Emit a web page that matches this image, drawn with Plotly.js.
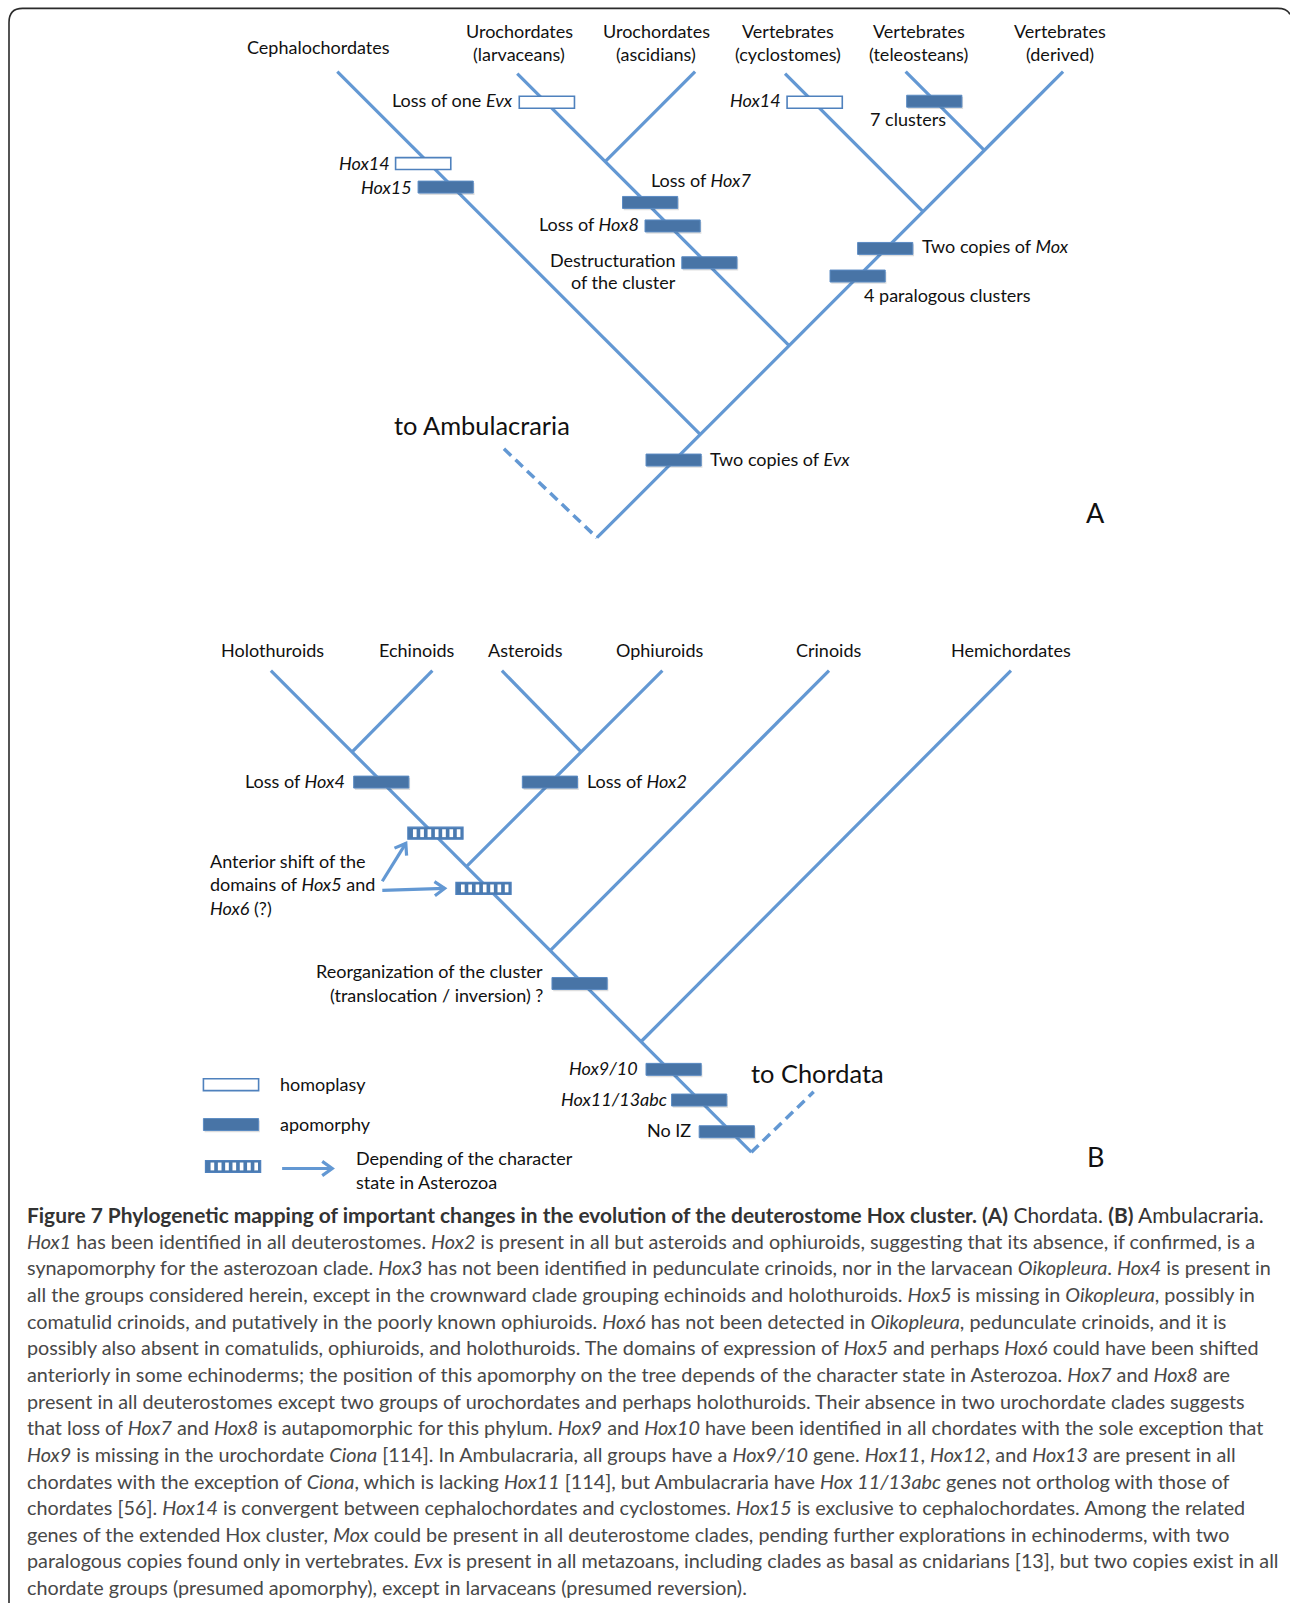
<!DOCTYPE html>
<html>
<head>
<meta charset="utf-8">
<script src="https://cdn.plot.ly/plotly-3.0.1.min.js"></script>
<style>
  html, body { margin: 0; padding: 0; background: #ffffff; }
  #fig { width: 1290px; height: 1603px; }
</style>
</head>
<body>
<div id="fig"></div>
<script>
// ---------------- DATA (coordinates in a 1262 x 1568 drawing space) ----------------
// Panel A (Chordata) branches: [x0, y0, x1, y1]
const branchesA = [
  [584, 526, 1040, 70],   // trunk to Vertebrates (derived)
  [685, 425, 330, 70],    // Cephalochordates
  [772, 338, 506, 72],    // Urochordates (larvaceans)
  [592, 158, 680, 70],    // Urochordates (ascidians)
  [903, 207, 768, 72],    // Vertebrates (cyclostomes)
  [963, 147, 886, 70]     // Vertebrates (teleosteans)
];
const dashedA = [493, 439, 584, 526];   // to Ambulacraria

// Panel B (Ambulacraria) branches
const branchesB = [
  [735, 1127, 265, 656],  // trunk to Holothuroids
  [344, 736, 423, 656],   // Echinoids
  [456, 848, 648, 656],   // Ophiuroids
  [569, 736, 491, 656],   // Asteroids
  [538, 930, 811, 656],   // Crinoids
  [627, 1019, 989, 656]   // Hemichordates
];
const dashedB = [735, 1127, 796, 1068];  // to Chordata

// Character-state bars: centre x, centre y, kind
const barX    = [535, 414, 436, 636, 658, 694, 797, 914, 866, 839, 659,
                 373, 538, 426, 473, 567, 659, 684, 711,
                 226, 226, 228];
const barY    = [100, 160, 183, 198, 221, 257, 100, 99, 243, 270, 450,
                 765, 765, 815, 869, 962, 1046, 1076, 1107,
                 1061, 1100, 1141];
const barKind = ['homo','homo','apo','apo','apo','apo','homo','apo','apo','apo','apo',
                 'apo','apo','stripe','stripe','apo','apo','apo','apo',
                 'homo','apo','stripe'];

// Arrows: [x0, y0, x1, y1]
const arrows = [
  [374, 862, 397, 825],
  [374, 871, 435, 869],
  [276, 1143, 325, 1143]
];

// Labels
const labelText = [
  'Cephalochordates',
  'Urochordates', '(larvaceans)', 'Urochordates', '(ascidians)',
  'Vertebrates', '(cyclostomes)', 'Vertebrates', '(teleosteans)', 'Vertebrates', '(derived)',
  'Loss of one <i>Evx</i>', '<i>Hox14</i>', '<i>Hox15</i>', 'Loss of <i>Hox7</i>', 'Loss of <i>Hox8</i>',
  'Destructuration', 'of the cluster', '<i>Hox14</i>', '7 clusters',
  'Two copies of <i>Mox</i>', '4 paralogous clusters', 'Two copies of <i>Evx</i>',
  'Holothuroids', 'Echinoids', 'Asteroids', 'Ophiuroids', 'Crinoids', 'Hemichordates',
  'Loss of <i>Hox4</i>', 'Loss of <i>Hox2</i>',
  'Anterior shift of the', 'domains of <i>Hox5</i> and', '<i>Hox6</i> (?)',
  'Reorganization of the cluster', '(translocation / inversion) ?',
  '<i>Hox9/10</i>', '<i>Hox11/13abc</i>', 'No IZ',
  'homoplasy', 'apomorphy', 'Depending of the character', 'state in Asterozoa'
];
const labelX = [
  312,
  508, 508, 642, 642,
  771, 771, 899, 899, 1037, 1037,
  504, 383, 405, 635, 627,
  663, 663, 766, 888,
  900, 843, 693,
  267, 408, 514, 646, 811, 989,
  339, 572,
  203, 203, 203,
  533, 533,
  626, 654, 678,
  272, 272, 346, 346
];
const labelY = [
  46,
  30, 53, 30, 53,
  30, 53, 30, 53, 30, 53,
  98, 159, 183, 176, 219,
  254, 276, 98, 116,
  241, 289, 449,
  636, 636, 636, 636, 636, 636,
  764, 764,
  842, 865, 888,
  950, 973,
  1045, 1075, 1105,
  1060, 1099, 1133, 1156
];
const labelAnchor = [
  'c',
  'c','c','c','c',
  'c','c','c','c','c','c',
  'r','r','r','l','r',
  'r','r','r','c',
  'l','l','l',
  'c','c','c','c','c','c',
  'r','l',
  'l','l','l',
  'r','r',
  'r','r','r',
  'l','l','l','l'
];

const bigText = ['to Ambulacraria', 'A', 'to Chordata', 'B'];
const bigX    = [472, 1072, 800, 1072];
const bigY    = [416, 501, 1050, 1131];

const captionLines = [
  '<b>Figure 7 Phylogenetic mapping of important changes in the evolution of the deuterostome Hox cluster. (A)</b> Chordata. <b>(B)</b> Ambulacraria.',
  '<i>Hox1</i> has been identified in all deuterostomes. <i>Hox2</i> is present in all but asteroids and ophiuroids, suggesting that its absence, if confirmed, is a',
  'synapomorphy for the asterozoan clade. <i>Hox3</i> has not been identified in pedunculate crinoids, nor in the larvacean <i>Oikopleura</i>. <i>Hox4</i> is present in',
  'all the groups considered herein, except in the crownward clade grouping echinoids and holothuroids. <i>Hox5</i> is missing in <i>Oikopleura</i>, possibly in',
  'comatulid crinoids, and putatively in the poorly known ophiuroids. <i>Hox6</i> has not been detected in <i>Oikopleura</i>, pedunculate crinoids, and it is',
  'possibly also absent in comatulids, ophiuroids, and holothuroids. The domains of expression of <i>Hox5</i> and perhaps <i>Hox6</i> could have been shifted',
  'anteriorly in some echinoderms; the position of this apomorphy on the tree depends of the character state in Asterozoa. <i>Hox7</i> and <i>Hox8</i> are',
  'present in all deuterostomes except two groups of urochordates and perhaps holothuroids. Their absence in two urochordate clades suggests',
  'that loss of <i>Hox7</i> and <i>Hox8</i> is autapomorphic for this phylum. <i>Hox9</i> and <i>Hox10</i> have been identified in all chordates with the sole exception that',
  '<i>Hox9</i> is missing in the urochordate <i>Ciona</i> [114]. In Ambulacraria, all groups have a <i>Hox9/10</i> gene. <i>Hox11</i>, <i>Hox12</i>, and <i>Hox13</i> are present in all',
  'chordates with the exception of <i>Ciona</i>, which is lacking <i>Hox11</i> [114], but Ambulacraria have <i>Hox 11/13abc</i> genes not ortholog with those of',
  'chordates [56]. <i>Hox14</i> is convergent between cephalochordates and cyclostomes. <i>Hox15</i> is exclusive to cephalochordates. Among the related',
  'genes of the extended Hox cluster, <i>Mox</i> could be present in all deuterostome clades, pending further explorations in echinoderms, with two',
  'paralogous copies found only in vertebrates. <i>Evx</i> is present in all metazoans, including clades as basal as cnidarians [13], but two copies exist in all',
  'chordate groups (presumed apomorphy), except in larvaceans (presumed reversion).'
];

// ---------------- STYLE ----------------
const LINE = '#6398d3';
const BAR_FILL = '#4874a6';
const BAR_EDGE = '#5b8bc3';
const FONT = 'Lato, "Open Sans", sans-serif';
const LABEL_SIZE = 18;
const BIG_SIZE = 25.4;
const CAP_SIZE = 19.8;
const CAP_TITLE_SIZE = 20.9;
const BAR_W = 54, BAR_H = 11.7;

// ---------------- BUILD ----------------
const traces = [];
function segTrace(list, dash, w) {
  const xs = [], ys = [];
  list.forEach(s => { xs.push(s[0], s[2], null); ys.push(s[1], s[3], null); });
  return { type: 'scatter', mode: 'lines', x: xs, y: ys, hoverinfo: 'skip',
           line: { color: LINE, width: w || 3.2, dash: dash || 'solid' } };
}
traces.push(segTrace(branchesA));
traces.push(segTrace(branchesB));
traces.push(segTrace([dashedA], '10px,6px', 3.5));
traces.push(segTrace([dashedB], '10px,6px', 3.5));

// arrows (shaft + chevron head)
(function () {
  const xs = [], ys = [];
  arrows.forEach(a => {
    const [x0, y0, x1, y1] = a;
    xs.push(x0, x1, null); ys.push(y0, y1, null);
    const ang = Math.atan2(y1 - y0, x1 - x0);
    const L = 12, spread = 0.62;
    xs.push(x1 - L * Math.cos(ang - spread), x1, x1 - L * Math.cos(ang + spread), null);
    ys.push(y1 - L * Math.sin(ang - spread), y1, y1 - L * Math.sin(ang + spread), null);
  });
  traces.push({ type: 'scatter', mode: 'lines', x: xs, y: ys, hoverinfo: 'skip',
                line: { color: LINE, width: 3.2 } });
})();

const shapes = [];
// figure frame
shapes.push({ type: 'path', xref: 'x', yref: 'y',
  path: 'M 8.8,1568 L 8.8,22 Q 8.8,8.2 22,8.2 L 1250,8.2 Q 1259,8.2 1262,14',
  line: { color: '#2b2b2b', width: 1.6 } });

barX.forEach((cx, i) => {
  const x0 = cx - BAR_W / 2, x1 = cx + BAR_W / 2, y0 = barY[i] - BAR_H / 2, y1 = barY[i] + BAR_H / 2;
  const kind = barKind[i];
  if (kind === 'apo') {
    shapes.push({ type: 'rect', x0: x0 + 1.2, x1: x1 + 1.2, y0: y0 + 1.8, y1: y1 + 1.8,
      fillcolor: 'rgba(0,0,0,0.13)', line: { width: 0 } });
    shapes.push({ type: 'rect', x0, x1, y0, y1, fillcolor: BAR_FILL, line: { color: BAR_EDGE, width: 1 } });
  } else if (kind === 'homo') {
    shapes.push({ type: 'rect', x0, x1, y0, y1, fillcolor: '#ffffff', line: { color: '#4f81bd', width: 1.6 } });
  } else {
    shapes.push({ type: 'rect', x0, x1, y0, y1, fillcolor: '#4a7ab0', line: { color: '#4f81bd', width: 1.2 } });
    const n = 7, gap = (BAR_W - 4) / n;
    for (let k = 0; k < n; k++) {
      const gx = x0 + 2 + gap * k + gap * 0.42;
      shapes.push({ type: 'rect', x0: gx, x1: gx + gap * 0.5, y0: y0 + 2, y1: y1 - 2,
        fillcolor: '#ffffff', line: { width: 0 } });
    }
  }
});

const annotations = [];
const anchorMap = { l: 'left', r: 'right', c: 'center' };
labelText.forEach((t, i) => {
  annotations.push({ text: t, x: labelX[i], y: labelY[i], xref: 'x', yref: 'y', showarrow: false,
    xanchor: anchorMap[labelAnchor[i]], yanchor: 'middle', align: anchorMap[labelAnchor[i]],
    font: { family: FONT, size: LABEL_SIZE, color: '#111111' } });
});
bigText.forEach((t, i) => {
  annotations.push({ text: t, x: bigX[i], y: bigY[i], xref: 'x', yref: 'y', showarrow: false,
    xanchor: 'center', yanchor: 'middle',
    font: { family: FONT, size: (t.length === 1 ? 27 : BIG_SIZE), color: '#111111' } });
});
captionLines.forEach((t, i) => {
  annotations.push({ text: t, x: 24, y: 1187.5 + i * 26.07, xref: 'x', yref: 'y', showarrow: false,
    xanchor: 'left', yanchor: 'middle', align: 'left',
    font: { family: FONT, size: i === 0 ? CAP_TITLE_SIZE : CAP_SIZE, color: i === 0 ? '#333333' : '#484848' } });
});

const layout = {
  width: 1290, height: 1603,
  margin: { l: 0, r: 0, t: 0, b: 0, pad: 0 },
  paper_bgcolor: '#ffffff', plot_bgcolor: '#ffffff',
  showlegend: false,
  xaxis: { range: [0, 1262], visible: false, fixedrange: true },
  yaxis: { range: [1568, 0], visible: false, fixedrange: true },
  shapes, annotations
};
Plotly.newPlot('fig', traces, layout, { staticPlot: true, displayModeBar: false });
</script>
</body>
</html>
